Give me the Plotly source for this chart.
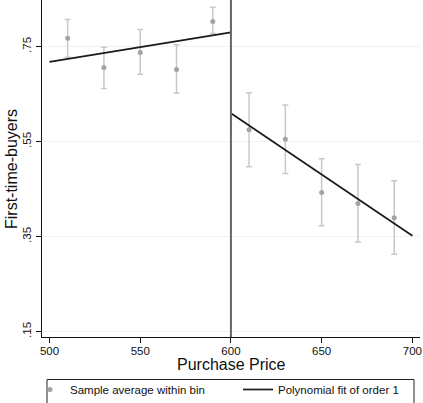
import plotly.graph_objects as go

# ---- data ----
bin_x = [510, 530, 550, 570, 590, 610, 630, 650, 670, 690]
bin_mean = [0.768, 0.706, 0.738, 0.702, 0.803, 0.575, 0.555, 0.443, 0.420, 0.390]
ci_high = [0.807, 0.749, 0.786, 0.754, 0.833, 0.653, 0.627, 0.514, 0.502, 0.468]
ci_low = [0.728, 0.662, 0.692, 0.652, 0.778, 0.497, 0.483, 0.373, 0.339, 0.313]

fit_left_x = [500, 600]
fit_left_y = [0.718, 0.780]
fit_right_x = [600, 700]
fit_right_y = [0.610, 0.352]

cutoff = 600

x_ticks = [500, 550, 600, 650, 700]
y_ticks = [0.15, 0.35, 0.55, 0.75]
y_tick_text = [".15", ".35", ".55", ".75"]

x_title = "Purchase Price"
y_title = "First-time-buyers"

FONT = "Liberation Sans, Arial, sans-serif"

err_plus = [h - m for h, m in zip(ci_high, bin_mean)]
err_minus = [m - l for m, l in zip(bin_mean, ci_low)]

fig = go.Figure()

fig.add_trace(go.Scatter(
    x=bin_x, y=bin_mean, mode="markers",
    name="Sample average within bin", legend="legend",
    marker=dict(color="#a3a3a3", size=5),
    error_y=dict(type="data", symmetric=False, array=err_plus, arrayminus=err_minus,
                 color="#c9c9c9", thickness=1.5, width=3),
))
fig.add_trace(go.Scatter(
    x=fit_left_x, y=fit_left_y, mode="lines",
    name="Polynomial fit of order 1", legendgroup="fit", legend="legend2",
    line=dict(color="#1a1a1a", width=1.7),
))
fig.add_trace(go.Scatter(
    x=fit_right_x, y=fit_right_y, mode="lines",
    name="Polynomial fit of order 1", legendgroup="fit", showlegend=False, legend="legend2",
    line=dict(color="#1a1a1a", width=1.7),
))

fig.add_vline(x=cutoff, line=dict(color="#666666", width=2), layer="above")

# pixel -> paper helpers
PL, PW, PH = 42, 378, 337
def px_x(p):
    return (p - PL) / PW
def px_y(p):
    return (PH - p) / PH

# legend frame
frame = dict(type="line", xref="paper", yref="paper", layer="above",
             line=dict(color="#222222", width=1))
fig.add_shape(**frame, x0=px_x(47), x1=px_x(414), y0=px_y(379.5), y1=px_y(379.5))
fig.add_shape(**frame, x0=px_x(47), x1=px_x(47), y0=px_y(379.5), y1=px_y(403))
fig.add_shape(**frame, x0=px_x(414), x1=px_x(414), y0=px_y(379.5), y1=px_y(403))

# axis titles
fig.add_annotation(text=x_title, xref="paper", yref="paper",
                   x=px_x(231), y=px_y(364), xanchor="center", yanchor="middle",
                   showarrow=False, font=dict(family=FONT, size=16, color="#111111"))
fig.add_annotation(text=y_title, xref="paper", yref="paper", textangle=-90,
                   x=px_x(11), y=px_y(169), xanchor="center", yanchor="middle",
                   showarrow=False, font=dict(family=FONT, size=16, color="#111111"))

leg_common = dict(
    orientation="h", xanchor="left", yanchor="top", y=px_y(375),
    font=dict(family=FONT, size=11.5, color="#111111"),
    bgcolor="rgba(0,0,0,0)", borderwidth=0,
)

fig.update_layout(
    width=423, height=403,
    margin=dict(l=PL, r=3, t=0, b=66, autoexpand=False),
    paper_bgcolor="white", plot_bgcolor="white",
    font=dict(family=FONT, color="#111111"),
    showlegend=True,
    legend=dict(**leg_common, x=px_x(30)),
    legend2=dict(**leg_common, x=px_x(238)),
    xaxis=dict(
        range=[495.87, 704.2], tickvals=x_ticks,
        showgrid=False, zeroline=False,
        showline=True, linecolor="#111111", linewidth=1.3,
        ticks="outside", ticklen=5, tickcolor="#111111", tickwidth=1.2,
        ticklabelstandoff=-2,
        tickfont=dict(size=11.5, family=FONT, color="#111111"),
    ),
    yaxis=dict(
        range=[0.1388, 0.8483], tickvals=y_ticks, ticktext=y_tick_text,
        tickangle=-90,
        showgrid=True, gridcolor="#edf3f5", gridwidth=1,
        zeroline=False,
        showline=True, linecolor="#111111", linewidth=1.3,
        ticks="outside", ticklen=5, tickcolor="#111111", tickwidth=1.2,
        ticklabelstandoff=0,
        tickfont=dict(size=11.5, family=FONT, color="#111111"),
    ),
)

fig.write_html("out.html")
